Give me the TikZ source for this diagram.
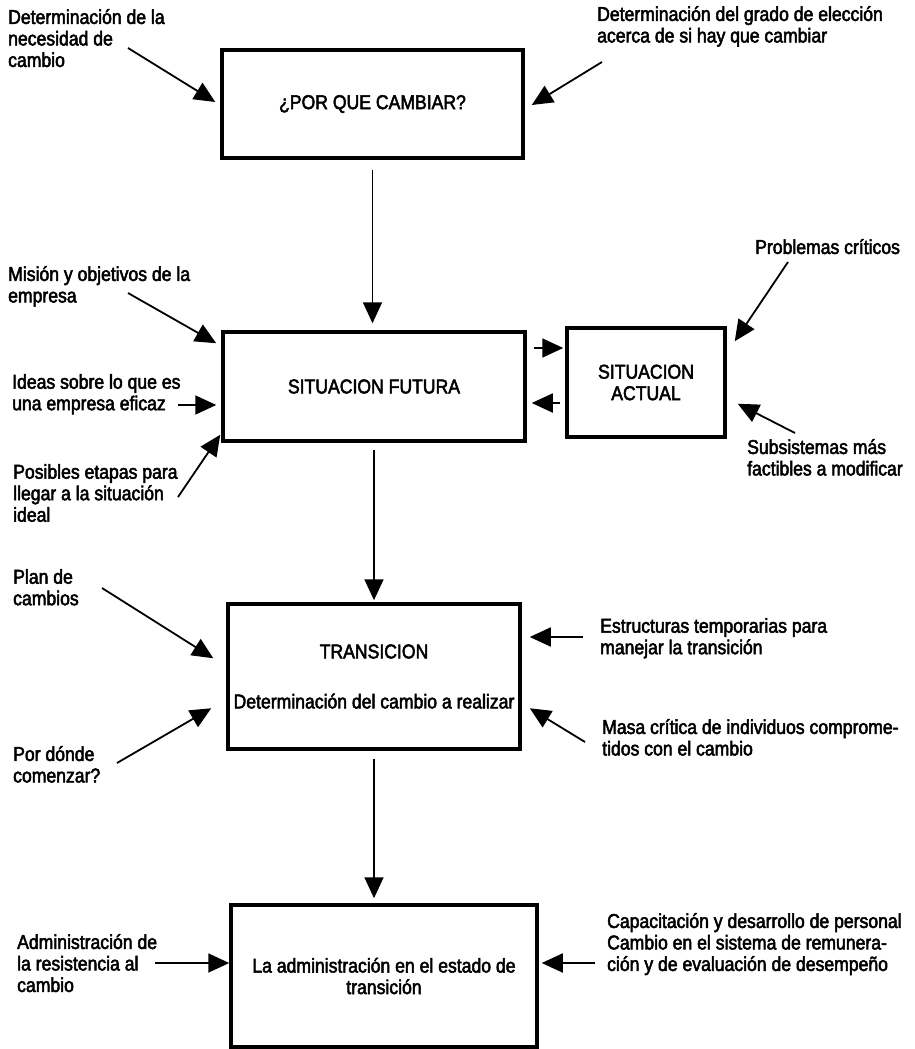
\documentclass[tikz,border=0pt]{standalone}
\usepackage{fontspec}
\setmainfont{Liberation Sans}[FakeStretch=0.88,UprightFeatures={FakeBold=2.5}]
\usetikzlibrary{calc,arrows.meta}

\tikzset{
  box/.style={draw, line width=3.5pt, align=center, inner sep=0pt},
  lbl/.style={anchor=north west, align=left, inner sep=0pt},
  arr/.style={line width=1.8pt, -{Triangle[length=21pt,width=19pt]}},
}

\begin{document}
\begin{tikzpicture}[x=1pt,y=-1pt,font=\fontsize{20}{21.5}\selectfont]
 \useasboundingbox (0,0) rectangle (915,1049);

 % boxes
 \node[box, minimum width=301pt, minimum height=108pt] (B1) at (372.5,104) {¿POR QUE CAMBIAR?};
 \node[box, minimum width=302pt, minimum height=109pt] (B2) at (374,386.5) {SITUACION FUTURA};
 \node[box, minimum width=158pt, minimum height=109pt] (B3) at (646,382.5) {SITUACION\\ACTUAL};
 \node[box, minimum width=292pt, minimum height=145pt] (B4) at (374,676.5) {TRANSICION\\[28.5pt]Determinación del cambio a realizar};
 \node[box, minimum width=306pt, minimum height=142pt] (B5) at (384,976) {La administración en el estado de\\transición};

 % labels
 \node[lbl] (L1) at (8,9) {Determinación de la\\necesidad de\\cambio};
 \node[lbl] (L2) at (597,6) {Determinación del grado de elección\\acerca de si hay que cambiar};
 \node[lbl] (L3) at (8,266) {Misión y objetivos de la\\empresa};
 \node[lbl] (L4) at (12,374) {Ideas sobre lo que es\\una empresa eficaz};
 \node[lbl] (L5) at (13,464) {Posibles etapas para\\llegar a la situación\\ideal};
 \node[lbl] (L6) at (755,239) {Problemas críticos};
 \node[lbl] (L7) at (747,439) {Subsistemas más\\factibles a modificar};
 \node[lbl] (L8) at (13,569) {Plan de\\cambios};
 \node[lbl] (L9) at (13,746) {Por dónde\\comenzar?};
 \node[lbl] (L10) at (600,618) {Estructuras temporarias para\\manejar la transición};
 \node[lbl] (L11) at (602,719) {Masa crítica de individuos comprome-\\tidos con el cambio};
 \node[lbl] (L12) at (17,934) {Administración de\\la resistencia al\\cambio};
 \node[lbl] (L13) at (607,913) {Capacitación y desarrollo de personal\\Cambio en el sistema de remunera-\\ción y de evaluación de desempeño};

 % free ends of the side arrows
 \coordinate (T1) at (128,48);
 \coordinate (T2) at (602,62);
 \coordinate (T3) at (128,293);
 \coordinate (T4) at (178,405);
 \coordinate (T5) at (178,497);
 \coordinate (T6) at (788,262);
 \coordinate (T7) at (795,433);
 \coordinate (T8) at (102,588);
 \coordinate (T9) at (117,763);
 \coordinate (T10) at (583,637);
 \coordinate (T11) at (585,742);
 \coordinate (T12) at (155,963);
 \coordinate (T13) at (595,963);
 \coordinate (A1) at ($(B2.east)+(0,-38.5)$);
 \coordinate (A2) at ($(B3.west)+(0,20.5)$);

 % main flow
 \draw[arr, shorten <=10pt, shorten >=7pt] (B1.south) -- (B1.south |- B2.north);
 \draw[arr, shorten <=7pt, shorten >=2pt] (B2.south) -- (B2.south |- B4.north);
 \draw[arr, shorten <=8pt, shorten >=5pt] (B4.south) -- (B4.south |- B5.north);
 \draw[arr, shorten <=7pt, shorten >=2pt] (A1) -- (A1 -| B3.west);
 \draw[arr, shorten <=5pt, shorten >=5pt] (A2) -- (A2 -| B2.east);

 % side inputs
 \draw[arr] (T1) -- ($(B1.west)+(-5,-2)$);
 \draw[arr] (T2) -- ($(B1.east)+(7,1)$);
 \draw[arr] (T3) -- ($(B2.north west)+(-5,13)$);
 \draw[arr, shorten >=5pt] (T4) -- (T4 -| B2.west);
 \draw[arr] (T5) -- ($(B2.south west)+(-1,-8)$);
 \draw[arr] (T6) -- ($(B3.north east)+(8,15)$);
 \draw[arr] (T7) -- ($(B3.south east)+(11,-35)$);
 \draw[arr] (T8) -- ($(B4.north west)+(-13,56)$);
 \draw[arr] (T9) -- ($(B4.north west)+(-15,106)$);
 \draw[arr, shorten >=8pt] (T10) -- (T10 -| B4.east);
 \draw[arr] (T11) -- ($(B4.north east)+(8,106)$);
 \draw[arr] (T12) -- (T12 -| B5.west);
 \draw[arr, shorten >=3pt] (T13) -- (T13 -| B5.east);
\end{tikzpicture}
\end{document}
